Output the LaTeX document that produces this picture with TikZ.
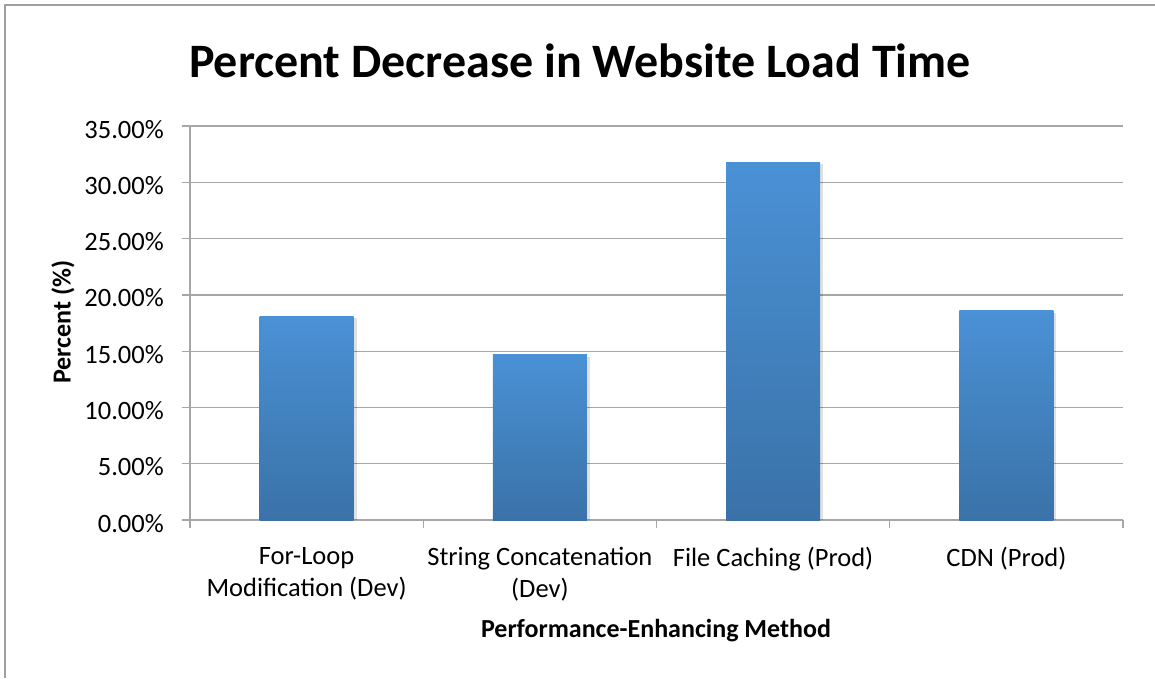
\documentclass[tikz,border=0pt]{standalone}
\usepackage{fontspec}
\setmainfont{Carlito}
\usetikzlibrary{positioning}
\definecolor{gridgray}{HTML}{A6A6A6}
\definecolor{framegray}{HTML}{A0A0A0}
\definecolor{bartop}{HTML}{4A91D5}
\definecolor{barbot}{HTML}{3A72A8}
\tikzset{
  gridline/.style={draw=gridgray, line width=1.3pt},
  bar/.style={top color=bartop, bottom color=barbot, draw=none},
  barshadow/.style={fill=black, opacity=0.12, draw=none},
  ticklab/.style={anchor=base east, inner sep=0pt, font=\fontsize{26.5}{30}\selectfont},
  catlab/.style={align=center, anchor=north, inner sep=0pt, font=\fontsize{26.5}{32}\selectfont},
  axtitle/.style={inner sep=0pt, font=\bfseries\fontsize{26}{30}\selectfont},
}

\begin{document}
\begin{tikzpicture}[x=1pt, y=-1pt]
  \useasboundingbox (0,0) rectangle (1155,678);
  \fill[white] (0,0) rectangle (1155,678);
  \draw[framegray, line width=1.3pt] (5,678) -- (5,5) -- (1155,5);

  \node[inner sep=0pt, anchor=base, font=\bfseries\fontsize{48}{54}\selectfont] (title) at (580,77) {Percent Decrease in Website Load Time};

  % grid and value axis
  \foreach \v in {0,5,...,35} {
    \draw[gridline] (182,{520-\v*11.257}) -- (1123,{520-\v*11.257});
    \node[ticklab] (tick\v) at (164,{520-\v*11.257+12}) {\v.00\%};
  }
  \draw[gridline] (190,126) -- (190,528);
  \foreach \k in {1,...,4}
    \draw[gridline] ({190+\k*233.25},520) -- ({190+\k*233.25},528);

  % bars
  \foreach \i/\val in {1/18.1, 2/14.7, 3/31.8, 4/18.6} {
    \fill[barshadow] ({190+(\i-0.5)*233.25-45},{520-\val*11.257+2}) rectangle ({190+(\i-0.5)*233.25+50},520);
    \shade[bar] ({190+(\i-0.5)*233.25-47},{520-\val*11.257}) rectangle ({190+(\i-0.5)*233.25+47},520);
  }

  % category labels
  \node[catlab] (forloop) at (306.6,547) {For-Loop\\Modification (Dev)};
  \node[catlab] (strcat) at (539.9,547) {String Concatenation\\(Dev)};
  \node[catlab] (caching) at (773.1,547) {File Caching (Prod)};
  \node[catlab] (cdn) at (1006.4,547) {CDN (Prod)};

  \node[axtitle, anchor=base] (xlab) at (656,637) {Performance-Enhancing Method};
  \node[axtitle, rotate=90] (ylab) at (63,322) {Percent (\%)};
\end{tikzpicture}
\end{document}
